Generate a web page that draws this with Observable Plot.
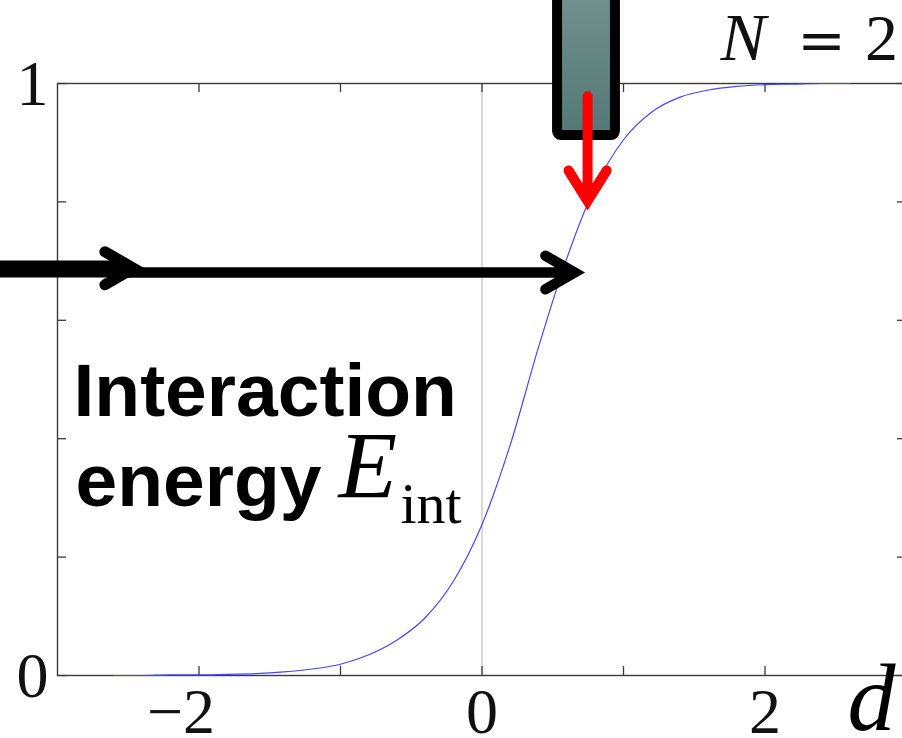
<!DOCTYPE html>
<html>
<head>
<meta charset="utf-8">
<script src="https://cdn.jsdelivr.net/npm/d3@7"></script>
<script src="https://cdn.jsdelivr.net/npm/@observablehq/plot@0.6"></script>
<style>
  html, body { margin: 0; padding: 0; background: #fff; overflow: hidden; }
</style>
</head>
<body>
<div id="chart"></div>
<script>
// Interaction energy E_int (normalised) as a function of the separation d, N = 2
const separation = [-2.6, -2.4, -2.2, -2.0, -1.8, -1.6, -1.4, -1.2, -1.0, -0.8, -0.6, -0.4, -0.2,
  0.0, 0.2, 0.4, 0.6, 0.8, 1.0, 1.2, 1.4, 1.6, 1.8, 2.0, 2.2, 2.4, 2.6];
const energy = [0.000, 0.000, 0.001, 0.001, 0.002, 0.003, 0.006, 0.011, 0.019, 0.035, 0.060, 0.098, 0.160,
  0.255, 0.390, 0.555, 0.705, 0.825, 0.905, 0.952, 0.977, 0.989, 0.995, 0.998, 0.999, 1.000, 1.000];

// Axis ticks and the few that carry a label
const xTickValues = [-2, -1, 0, 1, 2];
const yTickValues = [0, 0.2, 0.4, 0.6, 0.8, 1];
const xLabelValues = [-2, 0, 2];
const xLabelText = ["\u22122", "0", "2"];
const yLabelValues = [0, 1];
const yLabelText = ["0", "1"];

const curve = separation.map((d, i) => ({d, e: energy[i]}));

const W = 910, H = 738;
const mL = 57, mR = 4, mT = 83, mB = 63;
const frameW = W - mL - mR;
const frameH = H - mT - mB;
const tickLen = 9;

const serif = "'Liberation Serif', 'DejaVu Serif', serif";
const sans = "'Liberation Sans', Arial, sans-serif";
const axisColor = "#3a3a3a";

// Vertical gradient used by the block above the plot
function blockGradient() {
  const ns = "http://www.w3.org/2000/svg";
  const defs = document.createElementNS(ns, "defs");
  const g = document.createElementNS(ns, "linearGradient");
  g.setAttribute("id", "block-fill");
  g.setAttribute("x1", "0"); g.setAttribute("y1", "0");
  g.setAttribute("x2", "0"); g.setAttribute("y2", "1");
  [["0", "#84a09c"], ["1", "#537875"]].forEach(([o, c]) => {
    const s = document.createElementNS(ns, "stop");
    s.setAttribute("offset", o);
    s.setAttribute("stop-color", c);
    g.appendChild(s);
  });
  defs.appendChild(g);
  return defs;
}

const one = [null];

const chart = Plot.plot({
  width: W,
  height: H,
  marginLeft: mL,
  marginRight: mR,
  marginTop: mT,
  marginBottom: mB,
  style: {maxWidth: "none", overflow: "visible", background: "#fff"},
  x: {domain: [-3, 3], axis: null},
  y: {domain: [0, 1], axis: null},
  marks: [
    blockGradient,
    Plot.ruleX([0], {stroke: "#c8c8c8", strokeWidth: 1.4}),
    Plot.frame({stroke: axisColor, strokeWidth: 1.4}),
    // inward ticks on all four sides
    Plot.tickX(xTickValues, {x: d => d, insetTop: frameH - tickLen, stroke: axisColor, strokeWidth: 1.3}),
    Plot.tickX(xTickValues, {x: d => d, insetBottom: frameH - tickLen, stroke: axisColor, strokeWidth: 1.3}),
    Plot.tickY(yTickValues, {y: d => d, insetRight: frameW - tickLen, stroke: axisColor, strokeWidth: 1.3}),
    Plot.tickY(yTickValues, {y: d => d, insetLeft: frameW - tickLen, stroke: axisColor, strokeWidth: 1.3}),
    // tick labels
    Plot.text(xLabelValues, {x: d => d, text: (d, i) => xLabelText[i], frameAnchor: "bottom",
      lineAnchor: "top", textAnchor: "end", dx: 16, dy: 12, fontSize: 64, fontFamily: serif, fill: "#111"}),
    Plot.text(yLabelValues, {y: d => d, text: (d, i) => yLabelText[i], frameAnchor: "left",
      lineAnchor: "middle", textAnchor: "end", dx: -9, dy: 1, fontSize: 64, fontFamily: serif, fill: "#111"}),
    // the energy curve
    Plot.line(curve, {x: "d", y: "e", curve: "monotone-x", stroke: "#4646ff", strokeWidth: 1.2}),
    // block with the red arrow dropping onto the curve
    Plot.rect(one, {x1: 0.534, x2: 0.943, y1: 0.912, y2: 1.3, rx: 4,
      fill: "url(#block-fill)", stroke: "#000", strokeWidth: 10}),
    Plot.arrow(one, {x1: 0.746, y1: 1.21, x2: 0.746, y2: 0.8015, insetStart: 137,
      stroke: "#ff0000", strokeWidth: 10, headAngle: 64, headLength: 5.4,
      strokeLinecap: "round", strokeLinejoin: "miter", strokeMiterlimit: 10}),
    // black arrows coming in from the left
    Plot.link(one, {x1: -3.6, x2: -2.484, y1: 0.6866, y2: 0.6866, stroke: "#000", strokeWidth: 17, strokeLinecap: "butt"}),
    Plot.arrow(one, {x1: -3.544, y1: 0.688, x2: -2.463, y2: 0.688,
      stroke: "#000", strokeWidth: 11, headAngle: 60, headLength: 4.5,
      strokeLinecap: "round", strokeLinejoin: "miter", strokeMiterlimit: 10}),
    Plot.arrow(one, {x1: -2.519, y1: 0.6807, x2: 0.654, y2: 0.6807,
      stroke: "#000", strokeWidth: 10.5, headAngle: 60, headLength: 4.8,
      strokeLinecap: "round", strokeLinejoin: "miter", strokeMiterlimit: 10}),
    // annotations
    Plot.text(one, {x: -2.887, y: 0.439, text: () => "Interaction", textAnchor: "start", lineAnchor: "bottom",
      fontSize: 75, fontWeight: "bold", fontFamily: sans, fill: "#000"}),
    Plot.text(one, {x: -2.873, y: 0.287, text: () => "energy", textAnchor: "start", lineAnchor: "bottom",
      fontSize: 75, fontWeight: "bold", fontFamily: sans, fill: "#000"}),
    Plot.text(one, {x: -1.014, y: 0.299, text: () => "E", textAnchor: "start", lineAnchor: "bottom",
      fontSize: 96, fontStyle: "italic", fontFamily: serif, fill: "#000"}),
    Plot.text(one, {x: -0.576, y: 0.258, text: () => "int", textAnchor: "start", lineAnchor: "bottom",
      fontSize: 58, fontFamily: serif, fill: "#000"}),
    Plot.text(one, {x: 1.686, y: 1.039, text: () => "N", textAnchor: "start", lineAnchor: "bottom",
      fontSize: 68, fontStyle: "italic", fontFamily: serif, fill: "#111"}),
    Plot.text(one, {x: 2.399, y: 1.039, text: () => "=", textAnchor: "middle", lineAnchor: "bottom",
      fontSize: 58, fontFamily: "'DejaVu Serif', serif", fill: "#111"}),
    Plot.text(one, {x: 2.823, y: 1.039, text: () => "2", textAnchor: "middle", lineAnchor: "bottom",
      fontSize: 66, fontFamily: serif, fill: "#111"}),
    Plot.text(one, {x: 2.752, y: -0.0929, text: () => "d", textAnchor: "middle", lineAnchor: "bottom",
      fontSize: 96, fontStyle: "italic", fontFamily: serif, fill: "#000"})
  ]
});

document.getElementById("chart").appendChild(chart);
</script>
</body>
</html>
